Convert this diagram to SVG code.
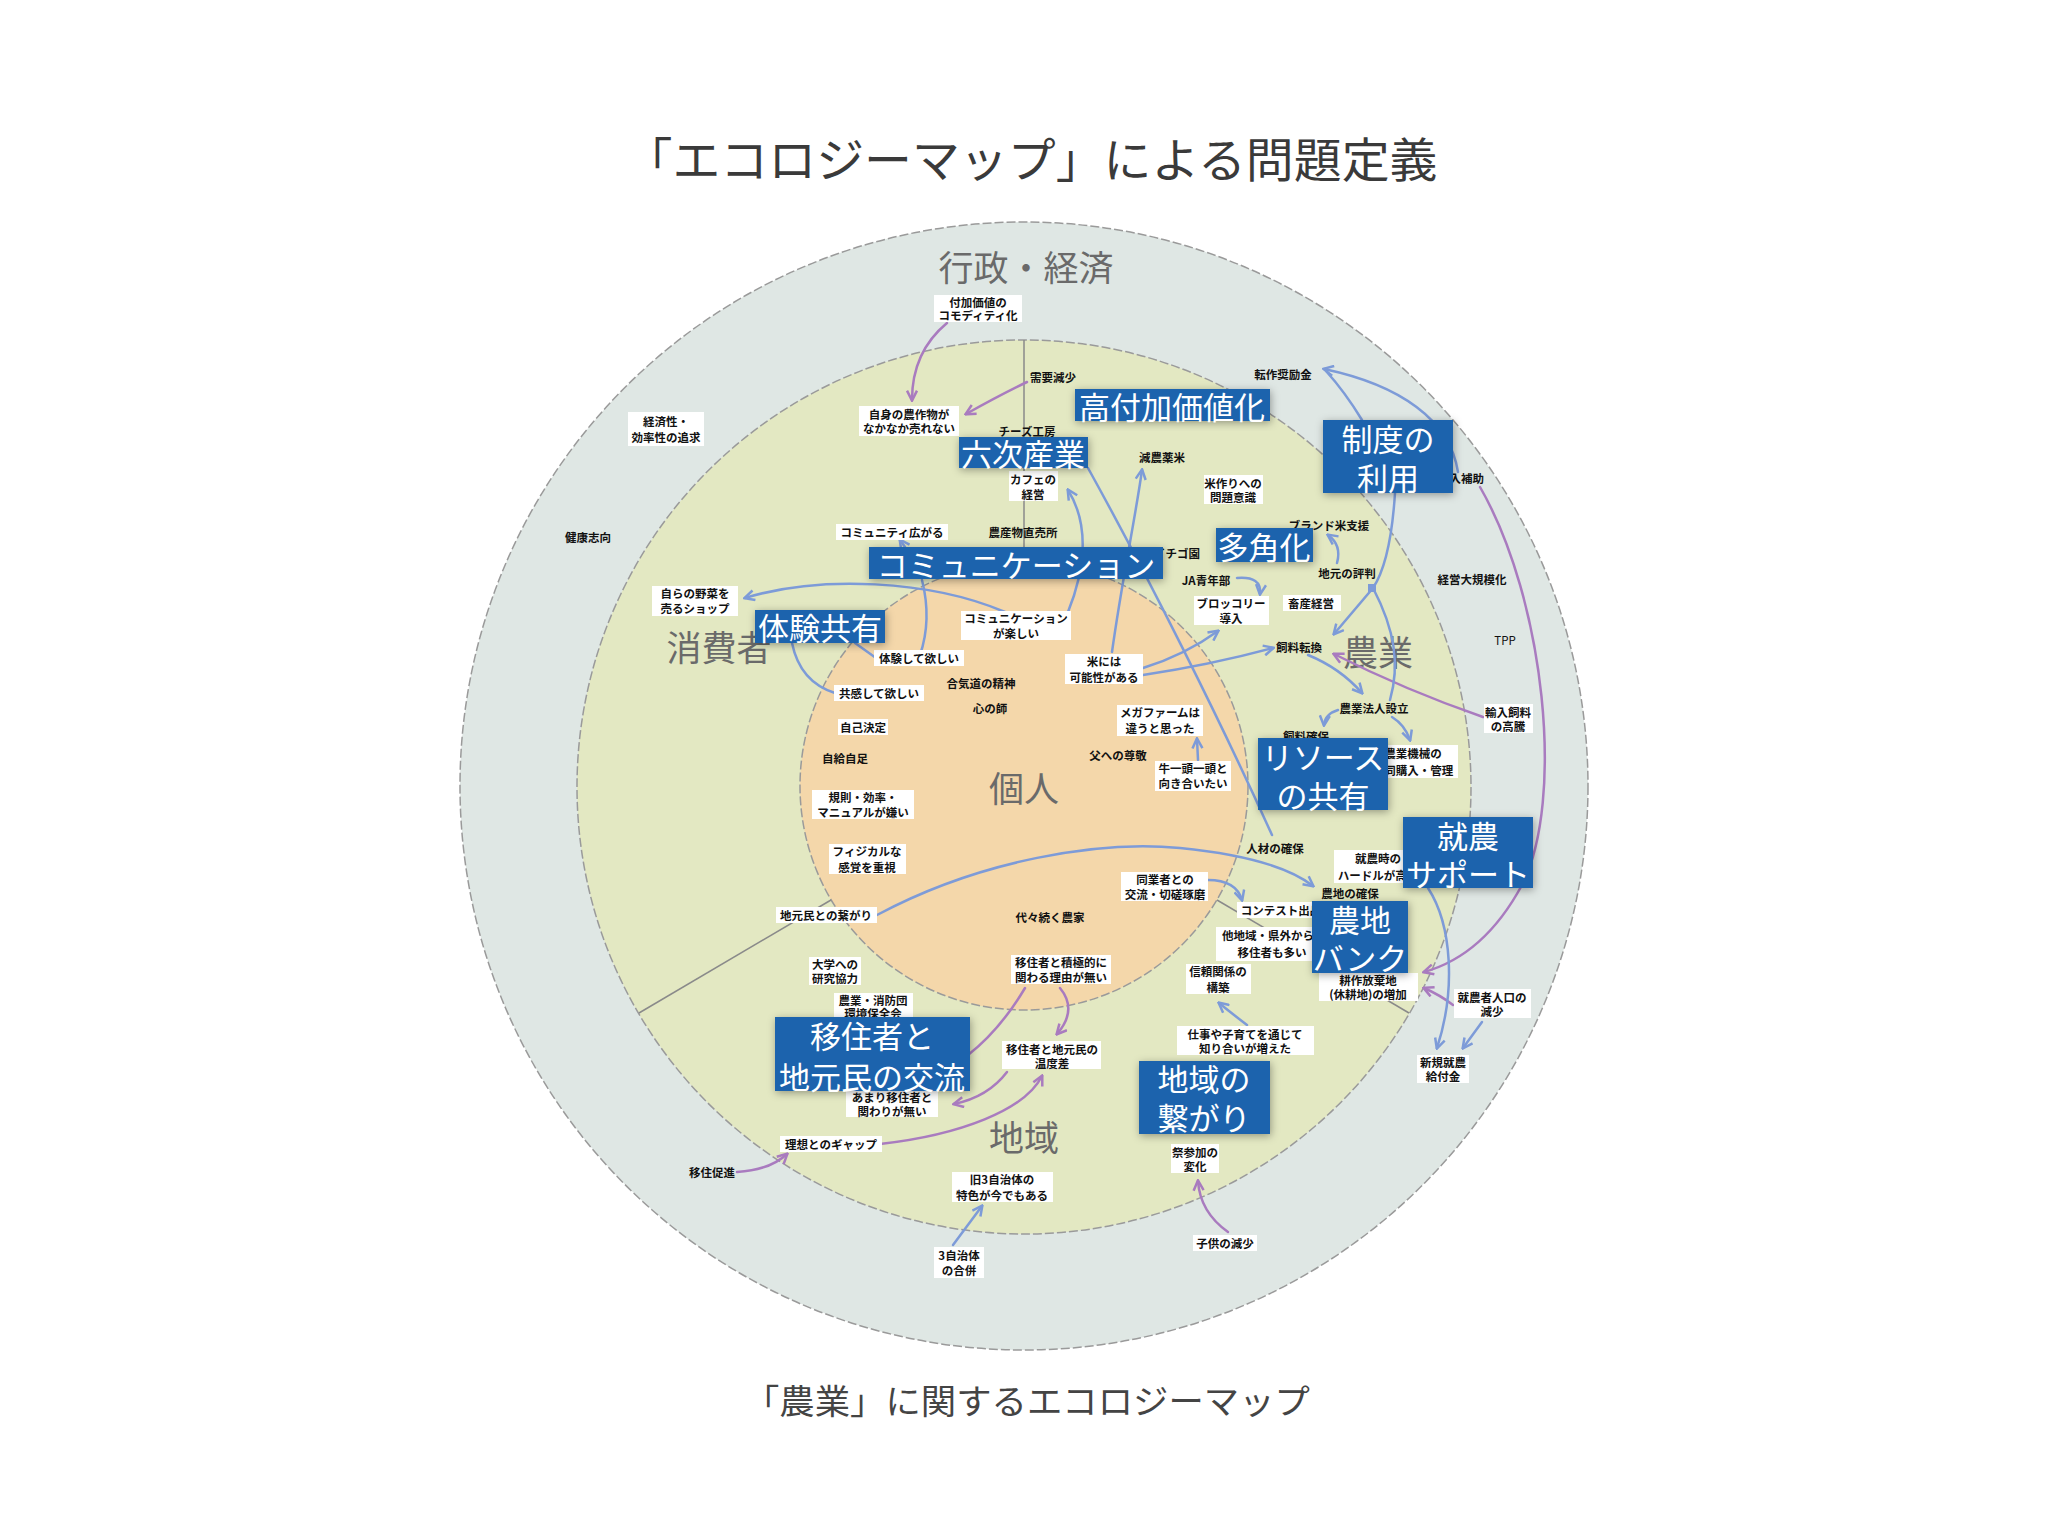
<svg xmlns="http://www.w3.org/2000/svg" width="2048" height="1536" viewBox="0 0 2048 1536">
<defs>
<style>
text{font-family:"Noto Sans CJK JP","Noto Sans",sans-serif}
.s{font-size:11.5px;font-weight:700;fill:#111;text-anchor:middle;dominant-baseline:central}
.w{fill:#fff}
.bb{fill:#1b63ad;filter:url(#sh)}
.bt{font-size:31px;fill:#fff;text-anchor:middle;dominant-baseline:central}
.sec{font-size:35px;fill:#6a6a6a;text-anchor:middle}
.b{fill:none;stroke:#7d9bd8;stroke-width:2.5;stroke-linecap:round}
.p{fill:none;stroke:#a97bbf;stroke-width:2.5;stroke-linecap:round}
.ma{marker-end:url(#ab)}
.mp{marker-end:url(#ap)}
.ring{stroke:#9a9a9a;stroke-width:1.5;stroke-dasharray:9 3}
</style>
<filter id="sh" x="-20%" y="-30%" width="140%" height="160%">
<feDropShadow dx="1" dy="2" stdDeviation="4" flood-color="#000" flood-opacity="0.35"/>
</filter>
<marker id="ab" viewBox="0 0 10 10" refX="8.5" refY="5" markerWidth="5" markerHeight="5" orient="auto">
<path d="M1,1 L9,5 L1,9" fill="none" stroke="#7d9bd8" stroke-width="2"/>
</marker>
<marker id="ap" viewBox="0 0 10 10" refX="8.5" refY="5" markerWidth="5" markerHeight="5" orient="auto">
<path d="M1,1 L9,5 L1,9" fill="none" stroke="#a97bbf" stroke-width="2"/>
</marker>
</defs>
<rect width="2048" height="1536" fill="#fff"/>
<text x="1031" y="177" font-size="47" fill="#3a3a3a" text-anchor="middle" textLength="813" lengthAdjust="spacingAndGlyphs">「エコロジーマップ」による問題定義</text>
<text x="1027" y="1414" font-size="34" fill="#444" text-anchor="middle" textLength="566" lengthAdjust="spacingAndGlyphs">「農業」に関するエコロジーマップ</text>

<g id="rings">
<circle cx="1024" cy="786" r="564" fill="#dfe7e4" class="ring"/>
<circle cx="1024" cy="787" r="447" fill="#e3e8c2" class="ring"/>
<circle cx="1024" cy="786" r="224" fill="#f4d7aa" class="ring"/>
<line x1="1024" y1="562" x2="1024" y2="340" stroke="#8a8a8a" stroke-width="1.5"/>
<line x1="831" y1="900" x2="639" y2="1013" stroke="#8a8a8a" stroke-width="1.5"/>
<line x1="1217" y1="900" x2="1409" y2="1013" stroke="#8a8a8a" stroke-width="1.5"/>
<text class="sec" x="1026" y="281">行政・経済</text>
<text class="sec" x="719" y="661">消費者</text>
<text class="sec" x="1378" y="666">農業</text>
<text class="sec" x="1024" y="1151">地域</text>
<text class="sec" x="1024" y="802">個人</text>
</g>

<g id="connectors">
<path class="p mp" d="M947,323 Q912,352 912,400"/>
<path class="p mp" d="M1027,382 Q1000,395 966,414"/>
<path class="p mp" d="M1480,487 C1545,600 1565,800 1522,885 C1495,935 1460,962 1424,972"/>
<path class="p mp" d="M1483,717 Q1405,690 1334,654"/>
<path class="p mp" d="M1453,1005 Q1440,995 1424,988"/>
<path class="p mp" d="M737,1172 Q770,1170 787,1154"/>
<path class="p mp" d="M880,1144 C960,1135 1025,1110 1042,1076"/>
<path class="p mp" d="M1060,988 Q1078,1010 1057,1034"/>
<path class="p" d="M1025,988 Q1000,1030 968,1055"/>
<path class="p mp" d="M1007,1072 Q988,1097 954,1104"/>
<path class="p mp" d="M1228,1232 Q1200,1212 1198,1181"/>

<path class="b ma" d="M1458,472 C1450,420 1400,385 1324,369"/>
<path class="b" d="M1362,420 Q1345,392 1326,371"/>
<path class="b ma" d="M1395,493 C1392,540 1385,570 1373,588 L1334,634"/>
<path class="b" d="M1373,588 C1395,630 1400,665 1390,700"/>
<rect x="1368" y="584" width="8" height="8" fill="#7d9bd8"/>
<path class="b ma" d="M1337,563 Q1342,545 1328,535"/>
<path class="b ma" d="M1237,578 Q1262,576 1260,594"/>
<path class="b ma" d="M1143,668 Q1185,655 1218,631"/>
<path class="b ma" d="M1143,675 Q1210,665 1273,648"/>
<path class="b ma" d="M1308,655 Q1340,668 1362,693"/>
<path class="b ma" d="M1338,710 Q1325,714 1324,725"/>
<path class="b ma" d="M1392,717 Q1405,725 1410,740"/>
<path class="b ma" d="M1112,652 C1122,580 1135,520 1142,470"/>
<path class="b ma" d="M1068,612 C1085,570 1090,525 1068,490"/>
<path class="b" d="M1088,468 C1150,580 1220,720 1272,835"/>
<path class="b ma" d="M1005,612 C930,580 820,575 745,598"/>
<path class="b" d="M792,643 Q800,682 835,693"/>
<path class="b" d="M855,643 L876,658"/>
<path class="b" d="M922,580 Q932,620 920,655"/>
<path class="b ma" d="M905,547 L900,540"/>
<path class="b ma" d="M1208,880 Q1236,880 1242,900"/>
<path class="b ma" d="M877,915 C980,860 1100,840 1180,848 C1250,855 1290,868 1313,886"/>
<path class="b ma" d="M1247,1025 Q1230,1012 1219,1003"/>
<path class="b ma" d="M953,1245 L982,1206"/>
<path class="b ma" d="M1428,888 C1452,925 1456,990 1437,1048"/>
<path class="b ma" d="M1482,1022 L1463,1048"/>
<path class="b ma" d="M1198,760 L1197,739"/>
</g>

<g id="labels">
<g id="n1"><rect class="w" x="934" y="295" width="88" height="27"/><text class="s" x="978"><tspan x="978" y="302">付加価値の</tspan><tspan x="978" y="315">コモディティ化</tspan></text></g>
<g id="n2"><rect class="w" x="628" y="412" width="76" height="34"/><text class="s"><tspan x="666" y="421">経済性・</tspan><tspan x="666" y="437">効率性の追求</tspan></text></g>
<g id="n3"><text class="s" x="588" y="537">健康志向</text></g>
<g id="n4"><text class="s" x="1283" y="374">転作奨励金</text></g>
<g id="n5"><text class="s" x="1461" y="478">導入補助</text></g>
<g id="n6"><text class="s" x="1472" y="579">経営大規模化</text></g>
<g id="n7"><text class="s" x="1505" y="640" style="font-weight:400">TPP</text></g>
<g id="n8"><rect class="w" x="1484" y="704" width="49" height="29"/><text class="s"><tspan x="1508" y="712">輸入飼料</tspan><tspan x="1508" y="726">の高騰</tspan></text></g>
<g id="n9"><rect class="w" x="1454" y="989" width="77" height="29"/><text class="s"><tspan x="1492" y="997">就農者人口の</tspan><tspan x="1492" y="1011">減少</tspan></text></g>
<g id="n10"><rect class="w" x="1417" y="1055" width="52" height="28"/><text class="s"><tspan x="1443" y="1062">新規就農</tspan><tspan x="1443" y="1076">給付金</tspan></text></g>
<g id="n11"><text class="s" x="712" y="1172">移住促進</text></g>
<g id="n12"><rect class="w" x="934" y="1247" width="50" height="31"/><text class="s"><tspan x="959" y="1255">3自治体</tspan><tspan x="959" y="1270">の合併</tspan></text></g>
<g id="n13"><rect class="w" x="1193" y="1235" width="64" height="16"/><text class="s" x="1225" y="1243">子供の減少</text></g>

<g id="n14"><rect class="w" x="859" y="406" width="100" height="30"/><text class="s"><tspan x="909" y="414">自身の農作物が</tspan><tspan x="909" y="428">なかなか売れない</tspan></text></g>
<g id="n15"><text class="s" x="1053" y="377">需要減少</text></g>
<g id="n16"><text class="s" x="1027" y="431">チーズ工房</text></g>
<g id="n17"><rect class="w" x="1009" y="471" width="49" height="30"/><text class="s"><tspan x="1033" y="479">カフェの</tspan><tspan x="1033" y="494">経営</tspan></text></g>
<g id="n18"><text class="s" x="1162" y="457">減農薬米</text></g>
<g id="n19"><rect class="w" x="1204" y="475" width="59" height="29"/><text class="s"><tspan x="1233" y="483">米作りへの</tspan><tspan x="1233" y="497">問題意識</tspan></text></g>
<g id="n20"><text class="s" x="1329" y="525">ブランド米支援</text></g>
<g id="n21"><text class="s" x="1347" y="573">地元の評判</text></g>
<g id="n22"><rect class="w" x="1283" y="595" width="58" height="16"/><text class="s" x="1311" y="603">畜産経営</text></g>
<g id="n23"><text class="s" x="1177" y="553">イチゴ園</text></g>
<g id="n24"><text class="s" x="1206" y="580">JA青年部</text></g>
<g id="n25"><rect class="w" x="1194" y="596" width="75" height="29"/><text class="s"><tspan x="1231" y="603">ブロッコリー</tspan><tspan x="1231" y="618">導入</tspan></text></g>
<g id="n26"><text class="s" x="1299" y="647">飼料転換</text></g>
<g id="n27"><text class="s" x="1374" y="708">農業法人設立</text></g>
<g id="n28"><text class="s" x="1306" y="736">飼料確保</text></g>
<g id="n29"><rect class="w" x="1366" y="745" width="92" height="33"/><text class="s"><tspan x="1413" y="753">農業機械の</tspan><tspan x="1413" y="770">共同購入・管理</tspan></text></g>
<g id="n30"><text class="s" x="1275" y="848">人材の確保</text></g>
<g id="n31"><rect class="w" x="1334" y="850" width="88" height="33"/><text class="s"><tspan x="1378" y="858">就農時の</tspan><tspan x="1378" y="875">ハードルが高い</tspan></text></g>
<g id="n32"><text class="s" x="1350" y="893">農地の確保</text></g>
<g id="n33"><rect class="w" x="1237" y="902" width="88" height="16"/><text class="s" x="1281" y="910">コンテスト出品</text></g>
<g id="n34"><rect class="w" x="1216" y="927" width="104" height="34"/><text class="s"><tspan x="1268" y="935">他地域・県外から</tspan><tspan x="1272" y="952">移住者も多い</tspan></text></g>
<g id="n35"><rect class="w" x="1319" y="973" width="99" height="28"/><text class="s"><tspan x="1368" y="980">耕作放棄地</tspan><tspan x="1368" y="994">(休耕地)の増加</tspan></text></g>
<g id="n36"><rect class="w" x="1186" y="964" width="65" height="30"/><text class="s"><tspan x="1218" y="971">信頼関係の</tspan><tspan x="1218" y="987">構築</tspan></text></g>
<g id="n37"><rect class="w" x="1177" y="1026" width="137" height="29"/><text class="s"><tspan x="1245" y="1034">仕事や子育てを通じて</tspan><tspan x="1245" y="1048">知り合いが増えた</tspan></text></g>
<g id="n38"><rect class="w" x="1171" y="1144" width="48" height="29"/><text class="s"><tspan x="1195" y="1152">祭参加の</tspan><tspan x="1195" y="1166">変化</tspan></text></g>
<g id="n39"><rect class="w" x="1002" y="1041" width="99" height="28"/><text class="s"><tspan x="1052" y="1049">移住者と地元民の</tspan><tspan x="1052" y="1063">温度差</tspan></text></g>
<g id="n40"><rect class="w" x="846" y="1089" width="92" height="28"/><text class="s"><tspan x="892" y="1097">あまり移住者と</tspan><tspan x="892" y="1111">関わりが無い</tspan></text></g>
<g id="n41"><rect class="w" x="780" y="1136" width="102" height="16"/><text class="s" x="831" y="1144">理想とのギャップ</text></g>
<g id="n42"><rect class="w" x="952" y="1172" width="101" height="30"/><text class="s"><tspan x="1002" y="1179">旧3自治体の</tspan><tspan x="1002" y="1195">特色が今でもある</tspan></text></g>
<g id="n43"><rect class="w" x="834" y="993" width="79" height="27"/><text class="s"><tspan x="873" y="1000">農業・消防団</tspan><tspan x="873" y="1013">環境保全会</tspan></text></g>
<g id="n44"><rect class="w" x="809" y="957" width="52" height="28"/><text class="s"><tspan x="835" y="964">大学への</tspan><tspan x="835" y="978">研究協力</tspan></text></g>
<g id="n45"><rect class="w" x="776" y="907" width="101" height="16"/><text class="s" x="826" y="915">地元民との繋がり</text></g>

<g id="n46"><rect class="w" x="836" y="524" width="112" height="16"/><text class="s" x="892" y="532">コミュニティ広がる</text></g>
<g id="n47"><text class="s" x="1023" y="532">農産物直売所</text></g>
<g id="n48"><rect class="w" x="652" y="586" width="86" height="30"/><text class="s"><tspan x="695" y="593">自らの野菜を</tspan><tspan x="695" y="608">売るショップ</tspan></text></g>
<g id="n50"><rect class="w" x="961" y="611" width="110" height="29"/><text class="s"><tspan x="1016" y="618">コミュニケーション</tspan><tspan x="1016" y="633">が楽しい</tspan></text></g>
<g id="n51"><rect class="w" x="874" y="650" width="90" height="16"/><text class="s" x="919" y="658">体験して欲しい</text></g>
<g id="n52"><rect class="w" x="834" y="685" width="90" height="16"/><text class="s" x="879" y="693">共感して欲しい</text></g>
<g id="n53"><rect class="w" x="838" y="719" width="50" height="16"/><text class="s" x="863" y="727">自己決定</text></g>
<g id="n54"><text class="s" x="845" y="758">自給自足</text></g>
<g id="n55"><text class="s" x="981" y="683">合気道の精神</text></g>
<g id="n56"><text class="s" x="990" y="708">心の師</text></g>
<g id="n57"><rect class="w" x="1065" y="654" width="78" height="30"/><text class="s"><tspan x="1104" y="661">米には</tspan><tspan x="1104" y="677">可能性がある</tspan></text></g>
<g id="n58"><rect class="w" x="1117" y="705" width="86" height="31"/><text class="s"><tspan x="1160" y="712">メガファームは</tspan><tspan x="1160" y="728">違うと思った</tspan></text></g>
<g id="n59"><text class="s" x="1118" y="755">父への尊敬</text></g>
<g id="n60"><rect class="w" x="1155" y="761" width="76" height="30"/><text class="s"><tspan x="1193" y="768">牛一頭一頭と</tspan><tspan x="1193" y="783">向き合いたい</tspan></text></g>
<g id="n61"><rect class="w" x="812" y="790" width="102" height="29"/><text class="s"><tspan x="863" y="797">規則・効率・</tspan><tspan x="863" y="812">マニュアルが嫌い</tspan></text></g>
<g id="n62"><rect class="w" x="829" y="844" width="77" height="30"/><text class="s"><tspan x="867" y="851">フィジカルな</tspan><tspan x="867" y="867">感覚を重視</tspan></text></g>
<g id="n63"><rect class="w" x="1121" y="872" width="87" height="29"/><text class="s"><tspan x="1165" y="879">同業者との</tspan><tspan x="1165" y="894">交流・切磋琢磨</tspan></text></g>
<g id="n64"><text class="s" x="1050" y="917">代々続く農家</text></g>
<g id="n65"><rect class="w" x="1011" y="955" width="100" height="29"/><text class="s"><tspan x="1061" y="962">移住者と積極的に</tspan><tspan x="1061" y="977">関わる理由が無い</tspan></text></g>
</g>

<g id="themes">
<g id="t1"><rect class="bb" x="1075" y="389" width="195" height="32"/><text class="bt" x="1172" y="405">高付加価値化</text></g>
<g id="t2"><rect class="bb" x="959" y="437" width="129" height="31"/><text class="bt" x="1023" y="452">六次産業</text></g>
<g id="t3"><rect class="bb" x="1323" y="420" width="130" height="73"/><text class="bt"><tspan x="1388" y="437">制度の</tspan><tspan x="1388" y="476">利用</tspan></text></g>
<g id="t4"><rect class="bb" x="1216" y="528" width="97" height="34"/><text class="bt" x="1264" y="545">多角化</text></g>
<g id="t5"><rect class="bb" x="869" y="547" width="294" height="32"/><text class="bt" x="1016" y="563">コミュニケーション</text></g>
<g id="t6"><rect class="bb" x="755" y="610" width="130" height="33"/><text class="bt" x="820" y="626">体験共有</text></g>
<g id="t7"><rect class="bb" x="1258" y="738" width="130" height="72"/><text class="bt"><tspan x="1323" y="755">リソース</tspan><tspan x="1323" y="794">の共有</tspan></text></g>
<g id="t8"><rect class="bb" x="1403" y="817" width="130" height="71"/><text class="bt"><tspan x="1468" y="834">就農</tspan><tspan x="1468" y="872">サポート</tspan></text></g>
<g id="t9"><rect class="bb" x="1312" y="901" width="96" height="72"/><text class="bt"><tspan x="1360" y="918">農地</tspan><tspan x="1360" y="956">バンク</tspan></text></g>
<g id="t10"><rect class="bb" x="775" y="1017" width="195" height="74"/><text class="bt"><tspan x="872" y="1034">移住者と</tspan><tspan x="872" y="1075">地元民の交流</tspan></text></g>
<g id="t11"><rect class="bb" x="1139" y="1061" width="131" height="73"/><text class="bt"><tspan x="1204" y="1077">地域の</tspan><tspan x="1204" y="1116">繋がり</tspan></text></g>
</g>
</svg>
